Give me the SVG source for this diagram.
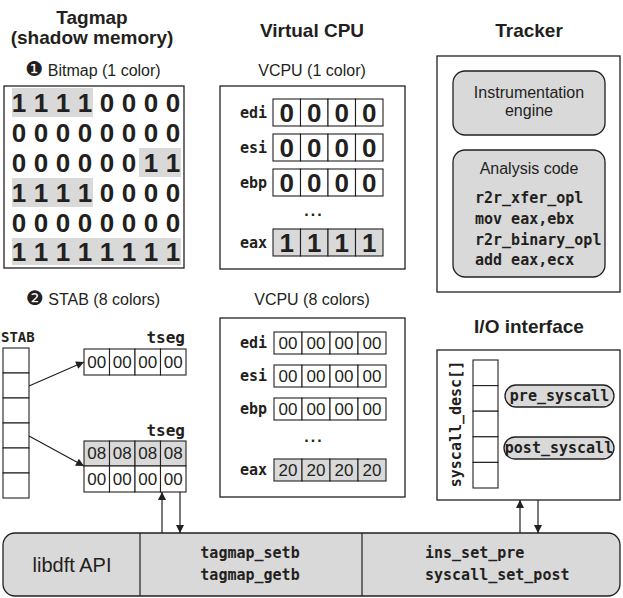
<svg xmlns="http://www.w3.org/2000/svg" width="623" height="598" viewBox="0 0 623 598">
<defs>
<marker id="ah" viewBox="0 0 10 10" refX="10" refY="5" markerWidth="9" markerHeight="8" markerUnits="userSpaceOnUse" orient="auto"><path d="M0,0 L10,5 L0,10 z" fill="#231f20"/></marker>
</defs>
<style>
.ttl{font-family:"Liberation Sans","DejaVu Sans",sans-serif;font-weight:bold;font-size:19px;fill:#231f20;text-anchor:middle}
.sub{font-family:"Liberation Sans","DejaVu Sans",sans-serif;font-size:16px;fill:#231f20;text-anchor:middle}
.num{font-family:"DejaVu Sans",sans-serif;font-size:20px}
.box{fill:#fff;stroke:#231f20;stroke-width:1.3}
.hl{fill:#d9d9d9}
.cell{fill:#fff;stroke:#231f20;stroke-width:1.1}
.gcell{fill:#d9d9d9;stroke:#231f20;stroke-width:1.1}
.big{font-family:"Liberation Sans","DejaVu Sans",sans-serif;font-weight:bold;font-size:26px;fill:#231f20;text-anchor:middle}
.mono{font-family:"DejaVu Sans Mono","Liberation Mono",monospace;font-weight:bold;font-size:15px;fill:#231f20}
.reg{text-anchor:end}
.mid{text-anchor:middle}
.hex{font-family:"Liberation Sans","DejaVu Sans",sans-serif;font-size:17px;fill:#231f20;text-anchor:middle}
.rbox{fill:#d9d9d9;stroke:#231f20;stroke-width:1.3}
.lbl{font-family:"Liberation Sans","DejaVu Sans",sans-serif;font-size:16px;fill:#231f20;text-anchor:middle}
.line{stroke:#231f20;stroke-width:1.2;fill:none}
.dots{font-family:"Liberation Sans",sans-serif;font-size:16px;font-weight:bold;fill:#231f20;text-anchor:middle;letter-spacing:2px}
</style>

<g id="tagmap-title">
<text class="ttl" x="92" y="24">Tagmap</text>
<text class="ttl" x="92" y="44">(shadow memory)</text>
</g>

<g id="bitmap">
<text class="sub" x="93" y="76"><tspan class="num">❶</tspan> Bitmap (1 color)</text>
<rect class="box" x="4" y="86" width="180" height="182"/>
<rect class="hl" x="12" y="88" width="81" height="29"/>
<rect class="hl" x="139" y="148" width="42" height="29"/>
<rect class="hl" x="12" y="178" width="81" height="29"/>
<rect class="hl" x="12" y="238" width="169" height="27"/>
<text class="big" x="19 41 63 85 107 129 151 173" y="112">11110000</text>
<text class="big" x="19 41 63 85 107 129 151 173" y="142">00000000</text>
<text class="big" x="19 41 63 85 107 129 151 173" y="172">00000011</text>
<text class="big" x="19 41 63 85 107 129 151 173" y="202">11110000</text>
<text class="big" x="19 41 63 85 107 129 151 173" y="232">00000000</text>
<text class="big" x="19 41 63 85 107 129 151 173" y="261">11111111</text>
</g>

<g id="vcpu-title">
<text class="ttl" x="312" y="37">Virtual CPU</text>
</g>

<g id="vcpu1">
<text class="sub" x="312" y="76">VCPU (1 color)</text>
<rect class="box" x="220" y="86" width="185" height="183"/>
<text class="mono reg" x="267" y="118">edi</text>
<rect class="cell" x="273" y="99" width="27.5" height="27"/>
<rect class="cell" x="300.5" y="99" width="27.5" height="27"/>
<rect class="cell" x="328" y="99" width="27.5" height="27"/>
<rect class="cell" x="355.5" y="99" width="27.5" height="27"/>
<text class="big" x="286.75 314.25 341.75 369.25" y="122">0000</text>
<text class="mono reg" x="267" y="153">esi</text>
<rect class="cell" x="273" y="134" width="27.5" height="27"/>
<rect class="cell" x="300.5" y="134" width="27.5" height="27"/>
<rect class="cell" x="328" y="134" width="27.5" height="27"/>
<rect class="cell" x="355.5" y="134" width="27.5" height="27"/>
<text class="big" x="286.75 314.25 341.75 369.25" y="157">0000</text>
<text class="mono reg" x="267" y="188">ebp</text>
<rect class="cell" x="273" y="169" width="27.5" height="27"/>
<rect class="cell" x="300.5" y="169" width="27.5" height="27"/>
<rect class="cell" x="328" y="169" width="27.5" height="27"/>
<rect class="cell" x="355.5" y="169" width="27.5" height="27"/>
<text class="big" x="286.75 314.25 341.75 369.25" y="192">0000</text>
<text class="dots" x="314" y="216">...</text>
<text class="mono reg" x="267" y="248">eax</text>
<rect class="gcell" x="273" y="229" width="27.5" height="27"/>
<rect class="gcell" x="300.5" y="229" width="27.5" height="27"/>
<rect class="gcell" x="328" y="229" width="27.5" height="27"/>
<rect class="gcell" x="355.5" y="229" width="27.5" height="27"/>
<text class="big" x="286.75 314.25 341.75 369.25" y="252">1111</text>
</g>

<g id="tracker">
<text class="ttl" x="529" y="37">Tracker</text>
<rect class="box" x="437" y="56" width="183" height="236"/>
</g>

<g id="instrumentation-engine">
<rect class="rbox" x="453" y="71" width="152" height="64" rx="12"/>
<text class="lbl" x="529" y="98">Instrumentation</text>
<text class="lbl" x="529" y="116">engine</text>
</g>

<g id="analysis-code">
<rect class="rbox" x="453" y="150" width="152" height="127" rx="12"/>
<text class="lbl" x="529" y="174">Analysis code</text>
<text class="mono" x="475" y="203">r2r_xfer_opl</text>
<text class="mono" x="475" y="224">mov eax,ebx</text>
<text class="mono" x="475" y="245">r2r_binary_opl</text>
<text class="mono" x="475" y="265">add eax,ecx</text>
</g>

<g id="stab">
<text class="sub" x="93" y="305"><tspan class="num">❷</tspan> STAB (8 colors)</text>
<text class="mono" x="1" y="342" style="font-size:14px">STAB</text>
<rect class="cell" x="3" y="348" width="26" height="25"/>
<rect class="cell" x="3" y="373" width="26" height="25"/>
<rect class="cell" x="3" y="398" width="26" height="25"/>
<rect class="cell" x="3" y="423" width="26" height="25"/>
<rect class="cell" x="3" y="448" width="26" height="25"/>
<rect class="cell" x="3" y="473" width="26" height="25"/>
</g>

<g id="tseg1">
<text class="mono reg" x="185" y="343" style="font-size:16px">tseg</text>
<rect class="cell" x="84" y="349" width="25.5" height="26"/>
<rect class="cell" x="109.5" y="349" width="25.5" height="26"/>
<rect class="cell" x="135" y="349" width="25.5" height="26"/>
<rect class="cell" x="160.5" y="349" width="25.5" height="26"/>
<text class="hex" x="96.75" y="368">00</text>
<text class="hex" x="122.25" y="368">00</text>
<text class="hex" x="147.75" y="368">00</text>
<text class="hex" x="173.25" y="368">00</text>
</g>
<g id="tseg2">
<text class="mono reg" x="185" y="436" style="font-size:16px">tseg</text>
<rect class="gcell" x="84" y="441" width="25.5" height="25"/>
<rect class="gcell" x="109.5" y="441" width="25.5" height="25"/>
<rect class="gcell" x="135" y="441" width="25.5" height="25"/>
<rect class="gcell" x="160.5" y="441" width="25.5" height="25"/>
<text class="hex" x="96.75" y="459">08</text>
<text class="hex" x="122.25" y="459">08</text>
<text class="hex" x="147.75" y="459">08</text>
<text class="hex" x="173.25" y="459">08</text>
<rect class="cell" x="84" y="466" width="25.5" height="26"/>
<rect class="cell" x="109.5" y="466" width="25.5" height="26"/>
<rect class="cell" x="135" y="466" width="25.5" height="26"/>
<rect class="cell" x="160.5" y="466" width="25.5" height="26"/>
<text class="hex" x="96.75" y="485">00</text>
<text class="hex" x="122.25" y="485">00</text>
<text class="hex" x="147.75" y="485">00</text>
<text class="hex" x="173.25" y="485">00</text>
</g>

<g id="vcpu8">
<text class="sub" x="312" y="305">VCPU (8 colors)</text>
<rect class="box" x="220" y="318" width="185" height="179"/>
<text class="mono reg" x="267" y="348">edi</text>
<rect class="cell" x="274" y="332" width="28" height="22"/>
<rect class="cell" x="302" y="332" width="28" height="22"/>
<rect class="cell" x="330" y="332" width="28" height="22"/>
<rect class="cell" x="358" y="332" width="28" height="22"/>
<text class="hex" x="288" y="349">00</text>
<text class="hex" x="316" y="349">00</text>
<text class="hex" x="344" y="349">00</text>
<text class="hex" x="372" y="349">00</text>
<text class="mono reg" x="267" y="381">esi</text>
<rect class="cell" x="274" y="365" width="28" height="22"/>
<rect class="cell" x="302" y="365" width="28" height="22"/>
<rect class="cell" x="330" y="365" width="28" height="22"/>
<rect class="cell" x="358" y="365" width="28" height="22"/>
<text class="hex" x="288" y="382">00</text>
<text class="hex" x="316" y="382">00</text>
<text class="hex" x="344" y="382">00</text>
<text class="hex" x="372" y="382">00</text>
<text class="mono reg" x="267" y="414">ebp</text>
<rect class="cell" x="274" y="398" width="28" height="22"/>
<rect class="cell" x="302" y="398" width="28" height="22"/>
<rect class="cell" x="330" y="398" width="28" height="22"/>
<rect class="cell" x="358" y="398" width="28" height="22"/>
<text class="hex" x="288" y="415">00</text>
<text class="hex" x="316" y="415">00</text>
<text class="hex" x="344" y="415">00</text>
<text class="hex" x="372" y="415">00</text>
<text class="dots" x="314" y="442">...</text>
<text class="mono reg" x="267" y="475">eax</text>
<rect class="gcell" x="274" y="459" width="28" height="22"/>
<rect class="gcell" x="302" y="459" width="28" height="22"/>
<rect class="gcell" x="330" y="459" width="28" height="22"/>
<rect class="gcell" x="358" y="459" width="28" height="22"/>
<text class="hex" x="288" y="476">20</text>
<text class="hex" x="316" y="476">20</text>
<text class="hex" x="344" y="476">20</text>
<text class="hex" x="372" y="476">20</text>
</g>

<g id="io-interface">
<text class="ttl" x="529" y="333">I/O interface</text>
<rect class="box" x="437" y="350" width="183" height="150"/>
<text class="mono mid" transform="translate(461,424) rotate(-90)">syscall_desc[]</text>
<rect class="cell" x="473" y="360" width="25" height="25.6"/>
<rect class="cell" x="473" y="385.6" width="25" height="25.6"/>
<rect class="cell" x="473" y="411.2" width="25" height="25.6"/>
<rect class="cell" x="473" y="436.8" width="25" height="25.6"/>
<rect class="cell" x="473" y="462.4" width="25" height="25.6"/>
</g>
<g id="pre-syscall">
<rect class="rbox" x="505" y="385" width="109" height="22" rx="11"/>
<text class="mono mid" x="559.5" y="401">pre_syscall</text>
</g>
<g id="post-syscall">
<rect class="rbox" x="504" y="437" width="110" height="22" rx="11"/>
<text class="mono mid" x="559" y="453">post_syscall</text>
</g>

<g id="libdft-api">
<rect class="rbox" x="3" y="533" width="617" height="63" rx="12"/>
<line class="line" x1="140" y1="533" x2="140" y2="596"/>
<line class="line" x1="362" y1="533" x2="362" y2="596"/>
<text x="72" y="572" style="font-family:'Liberation Sans','DejaVu Sans',sans-serif;font-size:20px;fill:#231f20;text-anchor:middle">libdft API</text>
<text class="mono mid" x="250" y="558">tagmap_setb</text>
<text class="mono mid" x="250" y="580">tagmap_getb</text>
<text class="mono" x="425" y="558">ins_set_pre</text>
<text class="mono" x="425" y="580">syscall_set_post</text>
</g>

<g id="connectors">
<line class="line" x1="29" y1="386" x2="84" y2="362" marker-end="url(#ah)"/>
<line class="line" x1="29" y1="436" x2="84" y2="466" marker-end="url(#ah)"/>
<line class="line" x1="162" y1="533" x2="162" y2="492" marker-end="url(#ah)"/>
<line class="line" x1="180" y1="492" x2="180" y2="533" marker-end="url(#ah)"/>
<line class="line" x1="520" y1="533" x2="520" y2="500" marker-end="url(#ah)"/>
<line class="line" x1="538" y1="500" x2="538" y2="533" marker-end="url(#ah)"/>
</g>
</svg>
